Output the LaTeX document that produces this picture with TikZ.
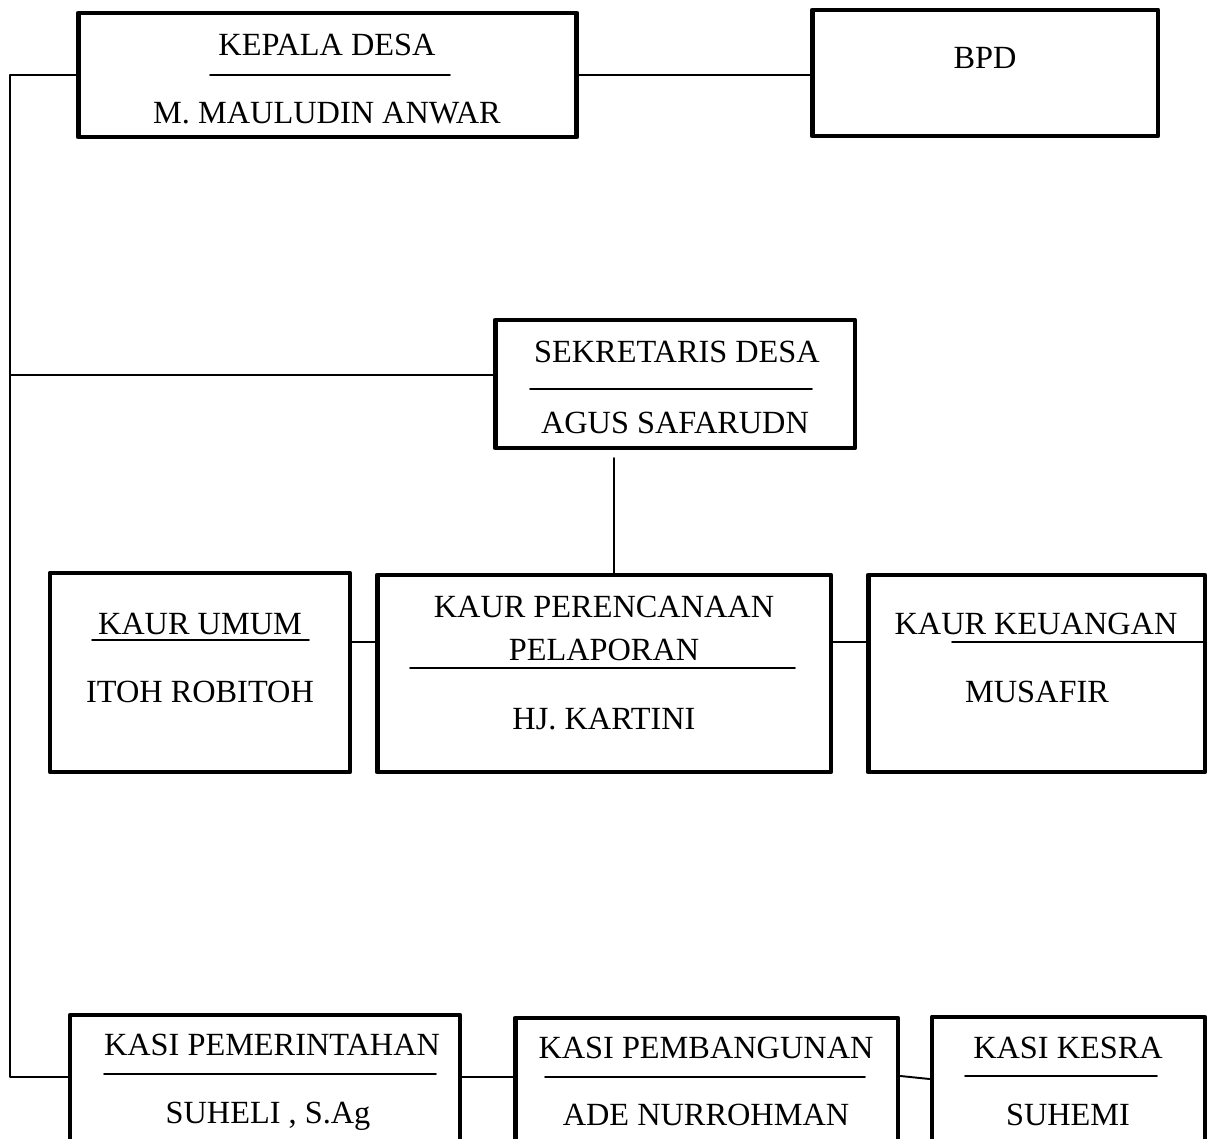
\documentclass[tikz,border=0pt]{standalone}
\usepackage{fontspec}
\setmainfont{Liberation Serif}
\begin{document}
\begin{tikzpicture}[x=0.02cm,y=-0.02cm,line join=round,line cap=round]
	\tikzset{every node/.style={font=\fontsize{18.4}{20}\selectfont},
		box/.style={draw,line width=2.8pt,rectangle,inner sep=0pt},
		lbl/.style={anchor=base,inner sep=0pt},
		conn/.style={line width=1.1pt},
		uline/.style={line width=1.1pt}}
	\useasboundingbox (0,0) rectangle (1211,1139);
	\clip (0,0) rectangle (1211,1139);
	% kotak-kotak
	\node[box,minimum width=9.98cm,minimum height=2.48cm] (kades) at (327.5,75) {};
	\node[box,minimum width=6.92cm,minimum height=2.52cm] (bpd) at (985,73) {};
	\node[box,minimum width=7.2cm,minimum height=2.56cm] (sekdes) at (675,384) {};
	\node[box,minimum width=6cm,minimum height=3.98cm] (umum) at (200,672.5) {};
	\node[box,minimum width=9.08cm,minimum height=3.94cm] (renc) at (604,673.5) {};
	\node[box,minimum width=6.74cm,minimum height=3.94cm] (keu) at (1036.5,673.5) {};
	\node[box,minimum width=7.8cm,minimum height=3.7cm] (pem) at (265,1107.5) {};
	\node[box,minimum width=7.66cm,minimum height=3.64cm] (pemb) at (706.5,1109) {};
	\node[box,minimum width=5.46cm,minimum height=3.66cm] (kesra) at (1068.5,1108.5) {};
	% teks
	\node[lbl] (kadesA) at (327,55) {KEPALA DESA};
	\node[lbl] (kadesB) at (327,123) {M. MAULUDIN ANWAR};
	\node[lbl] (bpdA) at (985,68) {BPD};
	\node[lbl] (sekdesA) at (677,362) {SEKRETARIS DESA};
	\node[lbl] (sekdesB) at (675,433) {AGUS SAFARUDN};
	\node[lbl] (umumA) at (200,634) {KAUR UMUM};
	\node[lbl] (umumB) at (200,702) {ITOH ROBITOH};
	\node[lbl] (rencA) at (604,617) {KAUR PERENCANAAN};
	\node[lbl] (rencB) at (604,660) {PELAPORAN};
	\node[lbl] (rencC) at (604,729) {HJ. KARTINI};
	\node[lbl] (keuA) at (1036,634) {KAUR KEUANGAN};
	\node[lbl] (keuB) at (1037,702) {MUSAFIR};
	\node[lbl] (pemA) at (272,1055) {KASI PEMERINTAHAN};
	\node[lbl] (pemB) at (268,1123) {SUHELI , S.Ag};
	\node[lbl] (pembA) at (706,1058) {KASI PEMBANGUNAN};
	\node[lbl] (pembB) at (706,1125) {ADE NURROHMAN};
	\node[lbl] (kesraA) at (1068,1058) {KASI KESRA};
	\node[lbl] (kesraB) at (1068,1125) {SUHEMI};
	% garis bawah
	\draw[uline] (210,75)--(450,75);
	\draw[uline] (530,389)--(812,389);
	\draw[uline] (92,640)--(309,640);
	\draw[uline] (410,668)--(795,668);
	\draw[uline] (952,642)--(1205,642);
	\draw[uline] (104,1074)--(436,1074);
	\draw[uline] (545,1077)--(865,1077);
	\draw[uline] (965,1076)--(1157,1076);
	% garis penghubung
	\coordinate (railA) at (10,75);
	\coordinate (railB) at (10,375);
	\coordinate (railC) at (10,1077);
	\coordinate (sekbawah) at (614,458);
	\draw[conn] (kades.west)--(railA)--(railC)--(railC -| pem.west);
	\draw[conn] (railB)--(railB -| sekdes.west);
	\draw[conn] (kades.east)--(kades.east -| bpd.west);
	\draw[conn] (sekbawah)--(sekbawah |- renc.north);
	\draw[conn] (umum.east |- 0,642)--(renc.west |- 0,642);
	\draw[conn] (renc.east |- 0,642)--(keu.west |- 0,642);
	\draw[conn] (pem.east |- 0,1077)--(pemb.west |- 0,1077);
	\draw[conn] (pemb.east |- 0,1076)--(kesra.west |- 0,1079);
\end{tikzpicture}
\end{document}
